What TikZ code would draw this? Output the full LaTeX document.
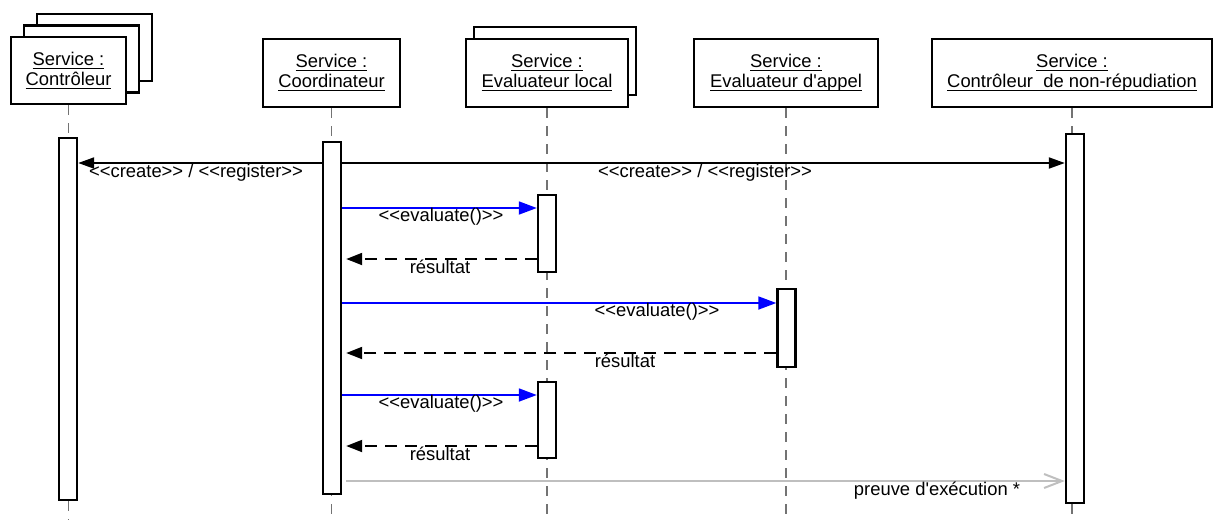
\documentclass[tikz,border=0pt]{standalone}
\usepackage{fontspec}
\setmainfont{Liberation Sans}[Ligatures=TeXOff]
\usetikzlibrary{arrows.meta}
\newcommand\ulbox[1]{\underline{\raisebox{0pt}[\height][0pt]{#1}}}

\begin{document}
\begin{tikzpicture}[x=0.5pt,y=-0.5pt,
  obj/.style={draw,line width=1.3pt,fill=white,align=center,inner sep=0pt,font=\fontsize{9.2}{10}\selectfont},
  bar/.style={draw,line width=1.2pt,fill=white,minimum width=9pt,inner sep=0pt},
  life/.style={draw=black!55,line width=0.8pt,dash pattern=on 5pt off 4pt},
  call/.style={line width=1pt,-{Triangle[length=8pt,width=5.5pt]}},
  eval/.style={blue,line width=0.9pt,-{Triangle[length=9pt,width=6.5pt]}},
  ret/.style={line width=1pt,dash pattern=on 6pt off 4pt,-{Triangle[length=8pt,width=6pt]},shorten >=2pt},
  proof/.style={black!25,line width=1pt,-{Straight Barb[length=9pt,width=7pt]},shorten <=2pt},
  lab/.style={anchor=base,inner sep=0pt,font=\fontsize{9.2}{10}\selectfont}]
  \useasboundingbox (0,0) rectangle (1213,520);

  % objects
  \node[obj,minimum width=57.5pt,minimum height=33.5pt] (ctl3) at (94.5,47.5) {};
  \node[obj,minimum width=57.5pt,minimum height=33.5pt] (ctl2) at (81.5,59) {};
  \node[obj,minimum width=57.5pt,minimum height=33.5pt] (ctl) at (68.5,70.5) {\ulbox{Service :}\\\ulbox{Contrôleur}};
  \node[obj,minimum width=68.5pt,minimum height=34pt] (coo) at (331.5,73) {\ulbox{Service :}\\\ulbox{Coordinateur}};
  \node[obj,minimum width=81pt,minimum height=34pt] (loc2) at (555,61) {};
  \node[obj,minimum width=81pt,minimum height=34pt] (loc) at (547,73) {\ulbox{Service :}\\\ulbox{Evaluateur local}};
  \node[obj,minimum width=92pt,minimum height=34pt] (app) at (786,73) {\ulbox{Service :}\\\ulbox{Evaluateur d'appel}};
  \node[obj,minimum width=140pt,minimum height=34pt] (nrp) at (1072,73) {\ulbox{Service :}\\\ulbox{Contrôleur~ de non-répudiation}};

  % lifelines
  \foreach \n in {ctl,coo,loc,app,nrp}
    \draw[life] (\n.south) -- (\n.south |- 0,520);

  % activations
  \node[bar,minimum height=181pt] (ctlbar) at (68,319) {};
  \node[bar,minimum height=176pt] (coobar) at (332,318) {};
  \node[bar,minimum height=38.5pt] (locbar1) at (547,233.5) {};
  \node[bar,minimum height=39pt] (appbar) at (786.5,328) {};
  \node[bar,minimum height=38pt] (locbar2) at (547,420) {};
  \node[bar,minimum height=184.5pt] (nrpbar) at (1075,318.5) {};

  % messages
  \draw[call] (coobar.west |- 0,163) -- (ctlbar.east |- 0,163);
  \node[lab] (l1) at (196,177) {<<create>> / <<register>>};
  \draw[call] (coobar.east |- 0,163) -- (nrpbar.west |- 0,163);
  \node[lab] (l2) at (705,177) {<<create>> / <<register>>};

  \draw[eval] (coobar.east |- 0,208) -- (locbar1.west |- 0,208);
  \node[lab] (l3) at (441,221) {<<evaluate()>>};
  \draw[ret] (locbar1.west |- 0,259) -- (coobar.east |- 0,259);
  \node[lab] (l4) at (440,273) {résultat};

  \draw[eval] (coobar.east |- 0,303) -- (appbar.west |- 0,303);
  \node[lab] (l5) at (657,316) {<<evaluate()>>};
  \draw[ret] (appbar.west |- 0,353) -- (coobar.east |- 0,353);
  \node[lab] (l6) at (625,367) {résultat};

  \draw[eval] (coobar.east |- 0,395) -- (locbar2.west |- 0,395);
  \node[lab] (l7) at (441,408) {<<evaluate()>>};
  \draw[ret] (locbar2.west |- 0,446) -- (coobar.east |- 0,446);
  \node[lab] (l8) at (440,460) {résultat};

  \draw[proof] (coobar.east |- 0,481) -- (nrpbar.west |- 0,481);
  \node[lab] (l9) at (937,495) {preuve d'exécution *};
\end{tikzpicture}
\end{document}
